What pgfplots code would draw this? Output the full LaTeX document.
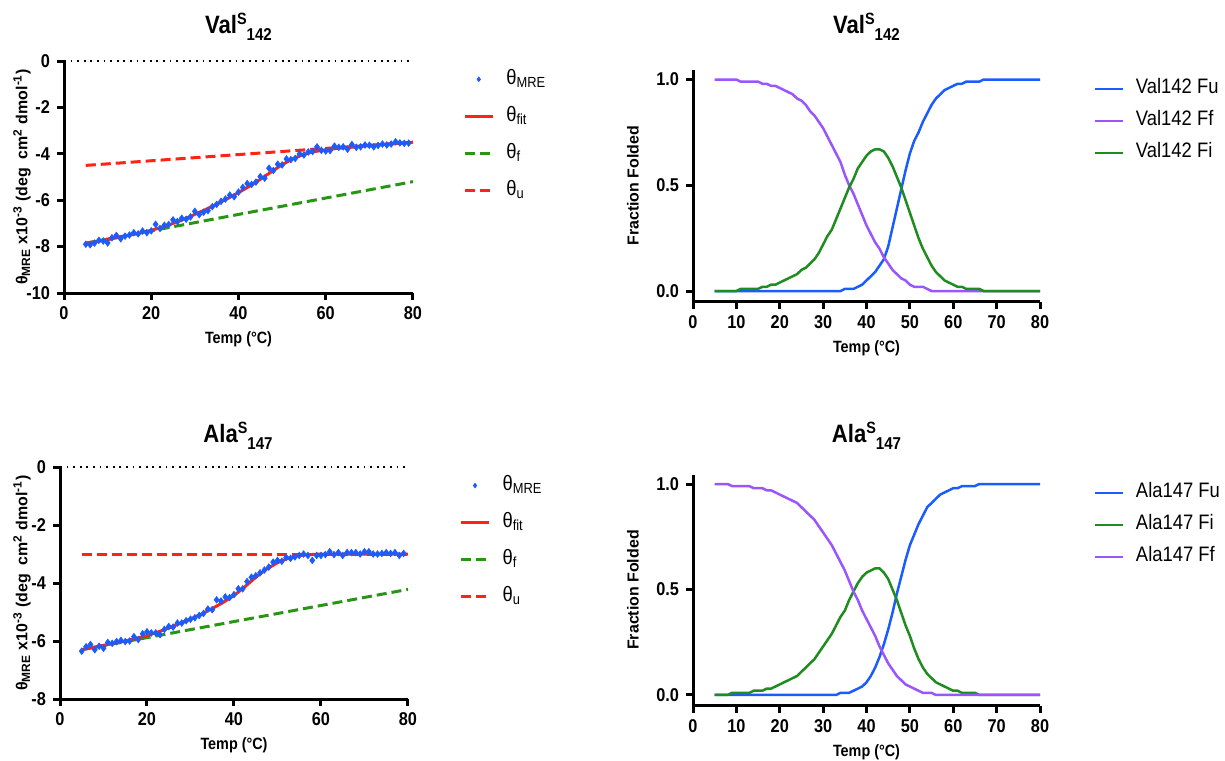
\documentclass[border=0pt]{standalone}
\usepackage{fontspec}
\setmainfont{Liberation Sans}[FakeStretch=0.88]
\newfontfamily\vfont{Liberation Sans}
\usepackage{pgfplots}
\pgfplotsset{compat=1.18}
\usepackage{pgfplotstable}

\definecolor{dblue}{RGB}{26,92,255}
\definecolor{dpurple}{RGB}{155,85,255}
\definecolor{dgreen}{RGB}{30,140,30}
\definecolor{lgreen}{RGB}{40,150,20}
\definecolor{dred}{RGB}{255,35,20}

\newcommand{\ttl}[2]{{\fontsize{12.6}{14}\selectfont\bfseries #1\raisebox{4.3bp}{\fontsize{8.2}{8}\selectfont S}\raisebox{-3.8bp}{\fontsize{8.6}{8}\selectfont #2}}}

\pgfplotstableread{
T y
5 -7.90
6 -7.92
7 -7.85
8 -7.73
9 -7.76
10 -7.84
11 -7.62
12 -7.52
13 -7.66
14 -7.55
15 -7.50
16 -7.40
17 -7.45
18 -7.33
19 -7.40
20 -7.32
21 -7.04
22 -7.22
23 -7.08
24 -7.05
25 -6.85
26 -6.92
27 -6.78
28 -6.82
29 -6.72
30 -6.48
31 -6.62
32 -6.52
33 -6.45
34 -6.28
35 -6.18
36 -6.05
37 -5.95
38 -5.78
39 -5.85
40 -5.65
41 -5.45
42 -5.28
43 -5.32
44 -5.22
45 -4.98
46 -5.05
47 -4.62
48 -4.72
49 -4.45
50 -4.48
51 -4.22
52 -4.25
53 -4.20
54 -4.00
55 -4.05
56 -3.92
57 -3.90
58 -3.70
59 -3.85
60 -3.88
61 -3.86
62 -3.67
63 -3.72
64 -3.70
65 -3.80
66 -3.60
67 -3.72
68 -3.70
69 -3.62
70 -3.63
71 -3.70
72 -3.64
73 -3.58
74 -3.62
75 -3.58
76 -3.48
77 -3.53
78 -3.55
79 -3.54
}\valdata

\pgfplotstableread{
T y
5 -7.85
7.5 -7.78
10 -7.70
12.5 -7.60
15 -7.51
17.5 -7.41
20 -7.30
22.5 -7.16
25 -7.00
27.5 -6.82
30 -6.61
32.5 -6.40
35 -6.17
37.5 -5.93
40 -5.67
42.5 -5.40
45 -5.10
47.5 -4.78
50 -4.47
52.5 -4.21
55 -4.02
57.5 -3.90
60 -3.83
62.5 -3.77
65 -3.73
67.5 -3.69
70 -3.65
72.5 -3.61
75 -3.57
77.5 -3.54
80 -3.50
}\valfit

\pgfplotstableread{
T y
5 -6.35
6 -6.20
7 -6.12
8 -6.30
9 -6.18
10 -6.25
11 -6.05
12 -6.08
13 -6.02
14 -5.98
15 -6.02
16 -6.00
17 -5.85
18 -5.95
19 -5.75
20 -5.68
21 -5.72
22 -5.72
23 -5.78
24 -5.60
25 -5.50
26 -5.52
27 -5.38
28 -5.38
29 -5.30
30 -5.25
31 -5.20
32 -5.12
33 -5.05
34 -4.90
35 -4.92
36 -4.58
37 -4.62
38 -4.48
39 -4.50
40 -4.40
41 -4.20
42 -4.20
43 -3.95
44 -3.80
45 -3.75
46 -3.65
47 -3.55
48 -3.45
49 -3.28
50 -3.22
51 -3.25
52 -3.12
53 -3.15
54 -3.10
55 -3.05
56 -3.00
57 -3.05
58 -3.22
59 -3.05
60 -3.05
61 -3.02
62 -2.92
63 -3.02
64 -2.95
65 -3.05
66 -2.95
67 -2.95
68 -2.95
69 -3.00
70 -2.92
71 -2.92
72 -3.00
73 -3.00
74 -2.98
75 -2.95
76 -2.98
77 -2.95
78 -3.05
79 -2.98
}\aladata

\pgfplotstableread{
T y
5 -6.30
7.5 -6.22
10 -6.15
12.5 -6.08
15 -6.00
17.5 -5.91
20 -5.81
22.5 -5.69
25 -5.55
27.5 -5.40
30 -5.24
32.5 -5.07
35 -4.88
37.5 -4.67
40 -4.43
42.5 -4.13
45 -3.80
47.5 -3.52
50 -3.30
52.5 -3.14
55 -3.05
57.5 -3.02
60 -3.00
80 -3.00
}\alafit

\pgfplotstableread{
T Fu Ff Fi
5 0 1.00 0
6 0 1.00 0
7 0 1.00 0
8 0 1.00 0
9 0 1.00 0
10 0 1.00 0
11 0 0.99 0.01
12 0 0.99 0.01
13 0 0.99 0.01
14 0 0.99 0.01
15 0 0.99 0.01
16 0 0.98 0.02
17 0 0.98 0.02
18 0 0.97 0.03
19 0 0.97 0.03
20 0 0.96 0.04
21 0 0.95 0.05
22 0 0.94 0.06
23 0 0.93 0.07
24 0 0.91 0.08
25 0 0.90 0.10
26 0 0.88 0.11
27 0 0.85 0.13
28 0 0.83 0.15
29 0 0.80 0.18
30 0 0.77 0.22
31 0 0.73 0.26
32 0 0.69 0.29
33 0 0.65 0.34
34 0 0.61 0.39
35 0.01 0.55 0.44
36 0.01 0.50 0.49
37 0.01 0.46 0.53
38 0.02 0.41 0.58
39 0.03 0.36 0.61
40 0.05 0.31 0.64
41 0.07 0.27 0.66
42 0.09 0.23 0.67
43 0.12 0.20 0.67
44 0.15 0.16 0.66
45 0.21 0.13 0.63
46 0.30 0.10 0.59
47 0.39 0.08 0.54
48 0.48 0.06 0.49
49 0.57 0.05 0.43
50 0.65 0.03 0.37
51 0.71 0.02 0.31
52 0.75 0.02 0.25
53 0.80 0.02 0.20
54 0.84 0.01 0.16
55 0.88 0 0.12
56 0.91 0 0.09
57 0.93 0 0.07
58 0.95 0 0.05
59 0.96 0 0.04
60 0.97 0 0.03
61 0.98 0 0.02
62 0.98 0 0.02
63 0.99 0 0.01
64 0.99 0 0.01
65 0.99 0 0.01
66 0.99 0 0.01
67 1.00 0 0
68 1.00 0 0
70 1.00 0 0
72 1.00 0 0
74 1.00 0 0
76 1.00 0 0
78 1.00 0 0
80 1.00 0 0
}\valfrac

\pgfplotstableread{
T Fu Ff Fi
5 0 1.00 0
6 0 1.00 0
7 0 1.00 0
8 0 1.00 0
9 0 0.99 0.01
10 0 0.99 0.01
11 0 0.99 0.01
12 0 0.99 0.01
13 0 0.99 0.01
14 0 0.98 0.02
15 0 0.98 0.02
16 0 0.98 0.02
17 0 0.97 0.03
18 0 0.97 0.03
19 0 0.96 0.04
20 0 0.95 0.05
21 0 0.94 0.06
22 0 0.93 0.07
23 0 0.92 0.08
24 0 0.91 0.09
25 0 0.89 0.11
26 0 0.87 0.13
27 0 0.85 0.15
28 0 0.83 0.17
29 0 0.80 0.20
30 0 0.77 0.23
31 0 0.74 0.26
32 0 0.71 0.29
33 0 0.67 0.33
34 0.01 0.63 0.37
35 0.01 0.59 0.40
36 0.01 0.54 0.45
37 0.02 0.49 0.49
38 0.03 0.45 0.53
39 0.04 0.40 0.56
40 0.06 0.36 0.58
41 0.09 0.32 0.59
42 0.13 0.28 0.60
43 0.18 0.23 0.60
44 0.24 0.19 0.58
45 0.31 0.15 0.55
46 0.39 0.12 0.50
47 0.48 0.09 0.45
48 0.56 0.07 0.39
49 0.64 0.05 0.33
50 0.71 0.04 0.28
51 0.76 0.03 0.22
52 0.81 0.02 0.17
53 0.85 0.01 0.13
54 0.89 0.01 0.10
55 0.91 0.01 0.08
56 0.93 0 0.06
57 0.95 0 0.05
58 0.96 0 0.04
59 0.97 0 0.03
60 0.98 0 0.02
61 0.98 0 0.02
62 0.99 0 0.01
63 0.99 0 0.01
64 0.99 0 0.01
65 0.99 0 0.01
66 1.00 0 0
68 1.00 0 0
70 1.00 0 0
72 1.00 0 0
74 1.00 0 0
76 1.00 0 0
78 1.00 0 0
80 1.00 0 0
}\alafrac

\pgfplotsset{
  myaxis/.style={
    scale only axis,
    axis lines=left,
    axis line style={-, line width=1.5bp, black},
    tick align=outside,
    major tick length=3.5bp,
    tick style={black, line width=1.5bp},
    minor tick num=0,
    ticklabel style={font=\fontsize{9.3}{11}\selectfont\bfseries},
    /pgf/number format/assume math mode=true,
    x label style={font=\fontsize{8.2}{10}\selectfont\bfseries, anchor=base},
    y label style={font=\vfont\fontsize{8}{10}\selectfont\bfseries, anchor=center},
    clip=false,
    xmin=0, xmax=80,
    legend cell align=left,
    legend image code/.code={\draw[mark repeat=2,mark phase=2,#1] plot coordinates {(0bp,0bp) (7bp,0bp) (14bp,0bp)};},
    legend style={draw=none, fill=none, font=\fontsize{10.5}{12}\selectfont, anchor=north west, inner sep=0pt,
      nodes={inner sep=0pt, text height=7.5bp, text depth=2.5bp},
      /tikz/every odd column/.style={column sep=6bp}},
  },
  leftaxis/.style={
    myaxis,
    xtick={0,20,...,80},
    xlabel={Temp (°C)},
    ylabel={θ\textsubscript{MRE} x10\textsuperscript{-3} (deg\ \ cm\textsuperscript{2} dmol\textsuperscript{-1})},
    legend style={row sep=8.5bp},
  },
  rightaxis/.style={
    myaxis,
    xtick={0,10,...,80},
    ytick={0,0.5,1},
    ymin=-0.05, ymax=1.045,
    yticklabel style={/pgf/number format/.cd, fixed, fixed zerofill, precision=1},
    xlabel={Temp (°C)},
    ylabel={Fraction Folded},
    x label style={at={(axis description cs:0.5,-0.22)}},
    y label style={at={(axis description cs:-0.173,0.5)}},
    legend style={row sep=6bp},
  },
  dat/.style={only marks, mark=diamond*, mark size=1.6bp, dblue, draw=dblue, fill=dblue},
  datleg/.style={only marks, mark=diamond*, mark size=1.1bp, dblue, draw=dblue, fill=dblue},
  fitl/.style={dred, line width=1.5bp},
  fbase/.style={lgreen, line width=1.5bp, dash pattern=on 5bp off 2.5bp},
  ubase/.style={dred, line width=1.5bp, dash pattern=on 5bp off 2.5bp},
  zline/.style={black, line width=0.9bp, dash pattern=on 0.9bp off 2.4bp, forget plot},
  frac/.style={line width=1.25bp, #1},
}

\begin{document}
\begin{tikzpicture}
\useasboundingbox (0,0) rectangle (612.5bp,-380.5bp);

% ---------- top left ----------
\node[anchor=base] at (119.25bp,-16.5bp) {\ttl{Val}{142}};
\begin{axis}[leftaxis, at={(32bp,-146.5bp)}, anchor=south west,
  width=174.5bp, height=116bp, ymin=-10, ymax=0, ytick={-10,-8,...,0},
  x label style={at={(axis description cs:0.5,-0.2155)}},
  y label style={at={(axis description cs:-0.1203,0.5)}},
  legend style={at={(1.143,0.966)}}]
  \addplot[zline] coordinates {(0,0) (80,0)};
  \addplot[fbase, forget plot] coordinates {(5,-7.85) (80,-5.2)};
  \addplot[ubase, forget plot] coordinates {(5,-4.5) (80,-3.5)};
  \addplot[fitl, forget plot] table[x=T, y=y] {\valfit};
  \addplot[dat, forget plot] table[x=T, y=y] {\valdata};
  \addlegendimage{datleg}
  \addlegendentry{θ\textsubscript{MRE}}
  \addlegendimage{fitl}
  \addlegendentry{θ\textsubscript{fit}}
  \addlegendimage{fbase}
  \addlegendentry{θ\textsubscript{f}}
  \addlegendimage{ubase}
  \addlegendentry{θ\textsubscript{u}}
\end{axis}

% ---------- bottom left ----------
\node[anchor=base] at (119bp,-221bp) {\ttl{Ala}{147}};
\begin{axis}[leftaxis, at={(30bp,-349.5bp)}, anchor=south west,
  width=174bp, height=116bp, ymin=-8, ymax=0, ytick={-8,-6,...,0},
  x label style={at={(axis description cs:0.5,-0.2155)}},
  y label style={at={(axis description cs:-0.109,0.5)}},
  legend style={at={(1.147,0.965)}}]
  \addplot[zline] coordinates {(0,0) (80,0)};
  \addplot[fbase, forget plot] coordinates {(5,-6.3) (80,-4.22)};
  \addplot[ubase, forget plot] coordinates {(5,-3.0) (80,-3.0)};
  \addplot[fitl, forget plot] table[x=T, y=y] {\alafit};
  \addplot[dat, forget plot] table[x=T, y=y] {\aladata};
  \addlegendimage{datleg}
  \addlegendentry{θ\textsubscript{MRE}}
  \addlegendimage{fitl}
  \addlegendentry{θ\textsubscript{fit}}
  \addlegendimage{fbase}
  \addlegendentry{θ\textsubscript{f}}
  \addlegendimage{ubase}
  \addlegendentry{θ\textsubscript{u}}
\end{axis}

% ---------- top right ----------
\node[anchor=base] at (433.25bp,-16.5bp) {\ttl{Val}{142}};
\begin{axis}[rightaxis, at={(346.5bp,-150.8bp)}, anchor=south west,
  width=173.5bp, height=115.8bp,
  legend style={at={(1.153,0.963)}}]
  \addplot[frac=dblue] table[x=T, y=Fu] {\valfrac};
  \addlegendentry{Val142 Fu}
  \addplot[frac=dpurple] table[x=T, y=Ff] {\valfrac};
  \addlegendentry{Val142 Ff}
  \addplot[frac=dgreen] table[x=T, y=Fi] {\valfrac};
  \addlegendentry{Val142 Fi}
\end{axis}

% ---------- bottom right ----------
\node[anchor=base] at (433.25bp,-221bp) {\ttl{Ala}{147}};
\begin{axis}[rightaxis, at={(346.5bp,-352.75bp)}, anchor=south west,
  width=173.5bp, height=115.5bp,
  legend style={at={(1.153,0.965)}}]
  \addplot[frac=dblue] table[x=T, y=Fu] {\alafrac};
  \addlegendentry{Ala147 Fu}
  \addplot[frac=dgreen] table[x=T, y=Fi] {\alafrac};
  \addlegendentry{Ala147 Fi}
  \addplot[frac=dpurple] table[x=T, y=Ff] {\alafrac};
  \addlegendentry{Ala147 Ff}
\end{axis}
\end{tikzpicture}
\end{document}
